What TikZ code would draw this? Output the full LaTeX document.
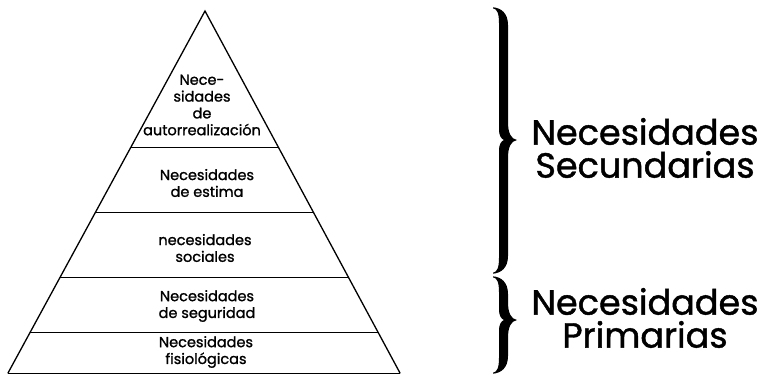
\documentclass[tikz,border=0pt]{standalone}
\usepackage{fontspec}
\setmainfont{Poppins}
\newfontfamily\heavyfont{Poppins}[FakeBold=1.2]
\usetikzlibrary{calc}
\newcommand{\mybracefill}[3]{%
\fill (493,#1-0.7) .. controls (501,#1) and (508,#1+5) .. (508,#1+17)
  -- (508,#2-18) .. controls (508,#2-7) and (511,#2-1) .. (517,#2)
  .. controls (511,#2+1) and (508,#2+7) .. (508,#2+18)
  -- (508,#3-17) .. controls (508,#3-5) and (501,#3) .. (493,#3+0.7)
  -- (493,#3-0.3) .. controls (497,#3-1) and (499,#3-5) .. (499,#3-15)
  -- (499,#2+10) .. controls (499,#2+5) and (501,#2+1) .. (504,#2)
  .. controls (501,#2-1) and (499,#2-5) .. (499,#2-10)
  -- (499,#1+15) .. controls (499,#1+5) and (497,#1+1) .. (493,#1+0.3) -- cycle;}
\begin{document}
\begin{tikzpicture}[x=1pt,y=-1pt,
  side/.style={line width=1.3pt, line join=miter, line cap=round},
  divider/.style={line width=0.8pt},
  lvl/.style={align=center, font=\heavyfont\fontsize{14.5}{16.8}\selectfont, inner sep=0pt},
  big/.style={align=center, font=\heavyfont\fontsize{35}{33}\selectfont, inner sep=0pt}]
\useasboundingbox (0,0) rectangle (769,375);
\fill[white] (0,0) rectangle (769,375);
\coordinate (A) at (205,11);
\coordinate (BL) at (8,373);
\coordinate (BR) at (400,373);
\draw[side] (BL) -- (A) -- (BR);
\draw[divider] (BL) -- (BR);
\foreach \t/\n in {0.3757/1,0.5552/2,0.7348/3,0.8867/4}{
  \coordinate (L\n) at ($(A)!\t!(BL)$);
  \coordinate (R\n) at ($(A)!\t!(BR)$);
  \draw[divider] (L\n) -- (R\n);
}
\node[lvl] (auto) at (202,105) {Nece-\\sidades\\de\\autorrealización};
\node[lvl] (estima) at (207,183) {Necesidades\\de estima};
\node[lvl] (social) at (205,248) {necesidades\\sociales};
\node[lvl] (segur) at (207,306) {Necesidades\\de seguridad};
\node[lvl] (fisio) at (206,352) {Necesidades\\fisiológicas};
\mybracefill{8}{140}{273}
\mybracefill{277}{320}{373}
\node[big] (sec) at (645,148) {Necesidades\\Secundarias};
\node[big] (prim) at (645,318) {Necesidades\\Primarias};
\end{tikzpicture}
\end{document}
